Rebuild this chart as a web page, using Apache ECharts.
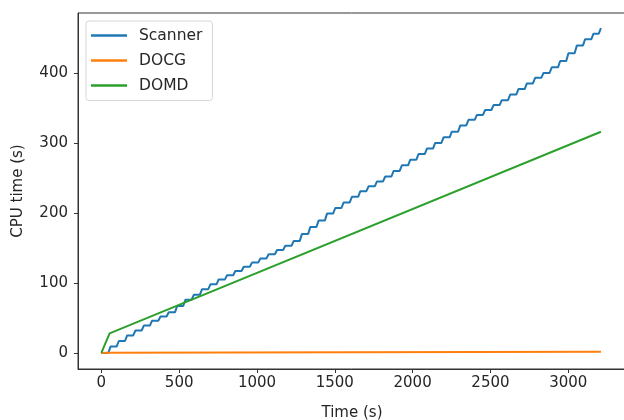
<!DOCTYPE html>
<html>
<head>
<meta charset="utf-8">
<script src="https://cdn.jsdelivr.net/npm/echarts@6/dist/echarts.min.js"></script>
<style>html,body{margin:0;padding:0;background:#fff}#c{width:624px;height:420px}</style>
</head>
<body>
<div id="c"></div>
<script>
// Scanner: staircase CPU time (s) vs time (s)
const scannerTime = [0,
  45,59, 98,112, 152,166, 205,219, 259,273, 312,326, 366,380, 419,433, 473,487, 526,540,
  580,594, 633,647, 687,701, 740,754, 794,808, 847,861, 901,915, 954,968, 1008,1022, 1061,1075,
  1115,1129, 1168,1182, 1222,1236, 1275,1289, 1329,1343, 1382,1396, 1436,1450, 1489,1503, 1543,1557, 1596,1610,
  1650,1664, 1703,1717, 1757,1771, 1810,1824, 1864,1878, 1917,1931, 1971,1985, 2024,2038, 2078,2092, 2131,2145,
  2185,2199, 2238,2252, 2292,2306, 2345,2359, 2399,2413, 2452,2466, 2506,2520, 2559,2573, 2613,2627, 2666,2680,
  2720,2734, 2773,2787, 2827,2841, 2880,2894, 2934,2948, 2987,3001, 3041,3055, 3094,3108, 3148,3162, 3196,3210];
const scannerCpu = [0,
  0,9, 9,17, 17,25, 25,32, 32,39, 39,46, 46,52, 52,58, 58,67, 67,76,
  76,83, 83,91, 91,98, 98,105, 105,111, 111,117, 117,123, 123,129, 129,135, 135,141,
  141,147, 147,153, 153,160, 160,170, 170,180, 180,189, 189,199, 199,207, 207,215, 215,223,
  223,231, 231,238, 238,245, 245,252, 252,260, 260,268, 268,276, 276,284, 284,292, 292,300,
  300,308, 308,316, 316,325, 325,333, 333,340, 340,347, 347,354, 354,361, 361,369, 369,377,
  377,385, 385,393, 393,400, 400,408, 408,417, 417,428, 428,439, 439,448, 448,456, 456,464];
const docgTime = [0, 40, 1600, 3210];
const docgCpu = [0, 0.2, 1.0, 1.8];
const domdTime = [0, 10, 53, 3210];
const domdCpu = [0, 1, 28, 316];
const xTicks = [0, 500, 1000, 1500, 2000, 2500, 3000];
const yTicks = [0, 100, 200, 300, 400];
const seriesNames = ['Scanner', 'DOCG', 'DOMD'];
const colors = ['#1f77b4', '#ff7f0e', '#2ca02c'];

const zip = (a, b) => a.map((v, i) => [v, b[i]]);
const font = 'DejaVu Sans';
const chart = echarts.init(document.getElementById('c'), null, {renderer: 'canvas'});
const axisCommon = {
  type: 'value',
  splitLine: {show: false},
  axisLine: {show: true, onZero: false, lineStyle: {color: '#333', width: 1}},
  nameTextStyle: {fontFamily: font, fontSize: 15, color: '#262626'}
};
chart.setOption({
  animation: false,
  grid: {left: 78, right: -2, top: 13, bottom: 51, containLabel: false, outerBoundsMode: 'none',
         show: true, borderColor: '#333', borderWidth: 1, backgroundColor: 'transparent'},
  legend: {
    orient: 'vertical', left: 86, top: 21,
    data: seriesNames,
    icon: 'rect', itemWidth: 36, itemHeight: 2.5, itemGap: 7,
    padding: [5.5, 10, 6, 5],
    borderColor: '#d6d6d6', borderWidth: 1, borderRadius: 3,
    backgroundColor: 'rgba(255,255,255,0.8)',
    textStyle: {fontFamily: font, fontSize: 15.5, color: '#262626', lineHeight: 18, padding: [0, 0, 0, 7]}
  },
  xAxis: Object.assign({}, axisCommon, {
    min: -150, max: 3371,
    name: 'Time (s)', nameLocation: 'middle', nameGap: 37,
    axisTick: {show: true, inside: false, length: 4, customValues: xTicks, lineStyle: {color: '#333'}},
    axisLabel: {customValues: xTicks, margin: 7, fontFamily: font, fontSize: 15, color: '#262626', formatter: v => String(v)}
  }),
  yAxis: Object.assign({}, axisCommon, {
    min: -23, max: 485.6,
    name: 'CPU time (s)', nameLocation: 'middle', nameGap: 52, nameRotate: 90,
    axisTick: {show: true, inside: false, length: 4, customValues: yTicks, lineStyle: {color: '#333'}},
    axisLabel: {customValues: yTicks, margin: 10, fontFamily: font, fontSize: 15, color: '#262626', formatter: v => String(v)}
  }),
  series: [
    {name: seriesNames[0], type: 'line', showSymbol: false, data: zip(scannerTime, scannerCpu), lineStyle: {width: 2, color: colors[0]}, itemStyle: {color: colors[0]}},
    {name: seriesNames[1], type: 'line', showSymbol: false, data: zip(docgTime, docgCpu), lineStyle: {width: 2, color: colors[1]}, itemStyle: {color: colors[1]}},
    {name: seriesNames[2], type: 'line', showSymbol: false, data: zip(domdTime, domdCpu), lineStyle: {width: 2, color: colors[2]}, itemStyle: {color: colors[2]}}
  ]
});
</script>
</body>
</html>
